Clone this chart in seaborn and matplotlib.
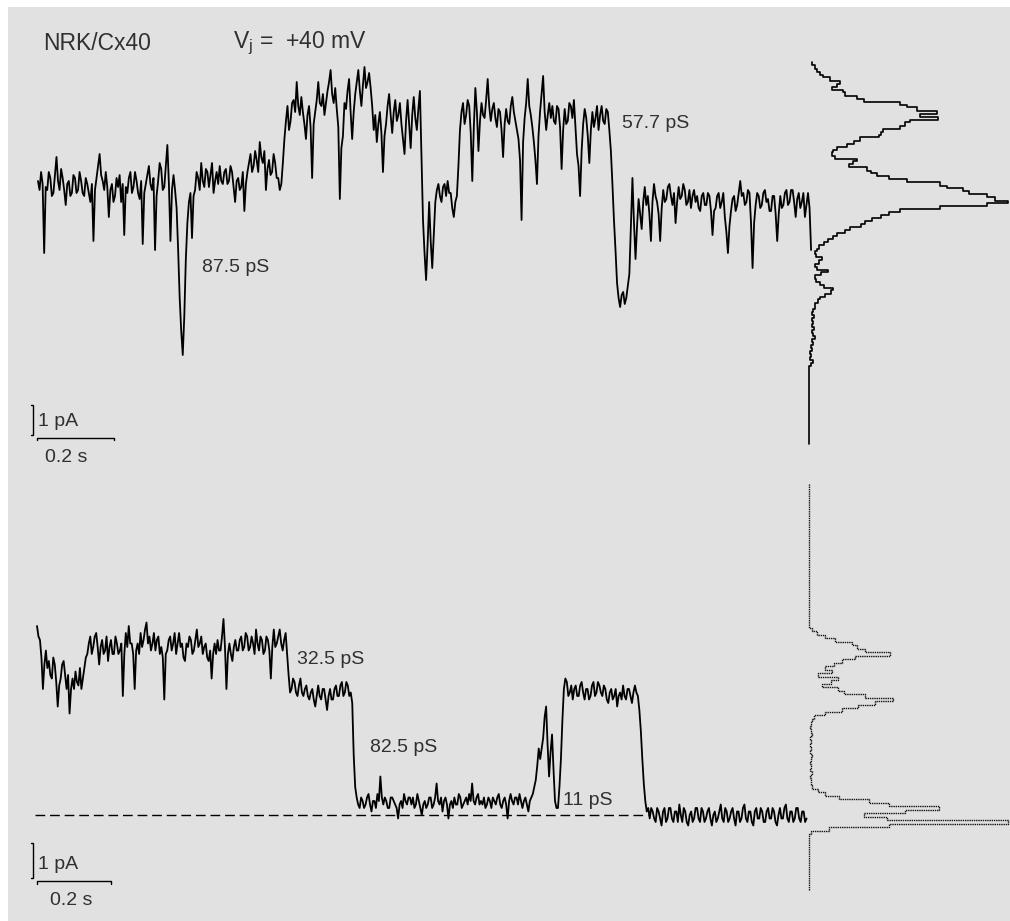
import numpy as np
import pandas as pd
import matplotlib
matplotlib.use("Agg")
import matplotlib.pyplot as plt
from matplotlib.patches import Rectangle
import seaborn as sns

# ---------------------------------------------------------------- data ----
DT_S = 0.004  # sample interval of the displayed traces (s)

# junctional current, upper record (pA)
top_current_pa = [
    7.3, 7.0, 7.6, 7.2, 4.9, 7.1, 7.0, 7.6, 7.4, 6.8, 6.9, 7.5, 8.1, 7.3, 7.0, 7.7, 7.4, 7.0, 6.5, 7.2,
    7.3, 6.8, 6.9, 7.5, 7.4, 6.9, 7.0, 7.6, 7.3, 6.9, 6.8, 7.4, 7.2, 6.9, 6.6, 7.2, 5.3, 7.0, 7.4, 7.8,
    8.2, 7.5, 7.3, 7.0, 7.6, 7.1, 6.1, 7.0, 7.2, 6.6, 6.8, 7.4, 7.1, 7.5, 6.6, 7.2, 5.5, 7.1, 6.9, 7.4,
    7.6, 6.9, 7.1, 7.6, 7.3, 6.9, 6.7, 7.3, 5.2, 6.9, 7.2, 7.5, 7.8, 7.2, 7.0, 7.4, 5.0, 6.8, 7.3, 7.9,
    7.7, 7.0, 7.1, 7.8, 8.5, 7.2, 5.3, 7.0, 7.5, 7.0, 6.4, 5.0, 3.4, 2.3, 1.5, 2.8, 4.7, 5.9, 6.6, 6.9,
    5.4, 6.8, 7.0, 7.6, 7.4, 7.0, 7.9, 7.3, 7.1, 7.7, 7.6, 7.1, 7.5, 7.9, 6.9, 7.3, 7.6, 7.2, 7.8, 7.3,
    7.2, 7.6, 7.7, 7.2, 7.3, 7.8, 7.6, 7.1, 6.6, 7.3, 7.4, 7.0, 7.1, 7.6, 6.3, 7.2, 7.6, 7.9, 8.2, 7.6,
    7.8, 8.3, 8.0, 7.6, 8.6, 8.1, 7.9, 8.3, 7.0, 7.7, 8.0, 7.5, 7.6, 8.2, 7.9, 7.4, 7.4, 7.0, 7.2, 7.9,
    8.7, 9.3, 9.8, 9.0, 9.3, 9.9, 10.0, 9.6, 10.6, 9.8, 9.5, 10.1, 9.6, 9.2, 8.7, 9.5, 9.8, 9.1, 7.4, 9.2,
    9.6, 10.0, 10.6, 9.9, 9.8, 10.2, 9.5, 9.9, 10.3, 10.6, 11.0, 10.2, 9.9, 10.4, 9.7, 9.1, 6.7, 8.4, 8.8, 9.9,
    9.7, 10.3, 10.7, 9.6, 8.7, 9.6, 10.2, 10.6, 11.0, 10.3, 9.8, 10.5, 11.1, 10.4, 10.6, 10.9, 10.4, 9.8, 9.0, 9.5,
    8.6, 9.2, 9.6, 8.9, 7.6, 8.8, 9.2, 9.8, 10.2, 9.5, 8.9, 9.6, 10.0, 9.3, 9.5, 9.9, 9.2, 8.7, 8.2, 9.3,
    10.0, 9.2, 8.4, 9.5, 10.1, 9.4, 9.0, 9.7, 10.3, 8.2, 6.0, 4.9, 4.0, 5.2, 6.6, 5.3, 4.4, 5.5, 6.6, 7.0,
    7.2, 6.8, 6.6, 7.1, 7.2, 6.8, 7.3, 6.9, 6.9, 6.4, 6.1, 6.6, 6.8, 7.8, 9.0, 9.6, 9.9, 9.2, 9.5, 10.0,
    9.8, 8.9, 7.3, 9.1, 10.4, 9.6, 8.3, 9.3, 9.9, 9.5, 9.4, 10.0, 10.7, 9.8, 9.3, 9.7, 9.9, 9.4, 9.1, 9.7,
    9.6, 9.0, 8.1, 9.2, 9.7, 9.3, 9.2, 9.8, 10.1, 9.6, 9.3, 9.0, 8.7, 8.0, 6.0, 8.6, 9.4, 9.9, 10.7, 9.8,
    9.5, 9.1, 8.6, 8.0, 7.2, 8.8, 9.6, 10.2, 10.8, 9.6, 9.0, 9.5, 9.9, 9.4, 9.8, 9.3, 9.2, 9.8, 9.7, 9.1,
    7.7, 9.0, 9.7, 9.2, 9.3, 9.9, 9.8, 9.4, 10.0, 9.1, 8.2, 7.8, 6.8, 8.3, 9.2, 9.7, 9.4, 8.8, 7.9, 9.0,
    9.6, 9.1, 9.4, 9.8, 9.0, 9.5, 9.8, 9.3, 9.2, 9.7, 9.6, 9.0, 8.3, 7.2, 6.0, 5.0, 3.9, 3.4, 3.1, 3.5,
    3.6, 3.2, 3.4, 3.8, 4.2, 5.8, 7.4, 5.9, 4.7, 5.8, 6.7, 6.2, 5.7, 6.6, 7.1, 6.5, 6.8, 6.2, 5.3, 6.6,
    7.2, 6.8, 6.6, 6.2, 5.3, 6.4, 7.0, 6.6, 6.7, 7.1, 7.2, 6.8, 6.5, 6.9, 5.9, 6.6, 7.1, 6.7, 6.8, 7.2,
    7.0, 6.5, 6.6, 7.0, 6.4, 6.8, 7.0, 6.6, 6.8, 6.4, 6.3, 6.8, 6.9, 6.5, 6.5, 6.9, 6.8, 6.3, 5.5, 6.3,
    6.4, 6.8, 6.9, 6.4, 6.6, 6.9, 6.1, 5.6, 4.9, 5.8, 6.3, 6.7, 6.8, 6.3, 6.5, 6.9, 7.3, 6.8, 6.9, 6.5,
    6.6, 7.0, 6.9, 5.9, 4.4, 5.9, 6.5, 6.9, 6.8, 6.4, 6.5, 6.9, 7.0, 6.6, 6.7, 6.3, 6.3, 6.8, 6.8, 6.2,
    5.3, 6.2, 6.8, 6.4, 6.5, 6.9, 7.0, 6.5, 6.6, 7.0, 7.0, 6.6, 6.1, 6.7, 6.9, 6.4, 6.6, 6.9, 6.1, 6.5,
    6.9, 6.4, 5.0,
]

# junctional current, lower record (pA, 0 = all channels closed)
bottom_current_pa = [
    5.4, 5.1, 5.0, 4.5, 3.6, 4.3, 4.7, 4.2, 4.4, 4.0, 3.9, 4.5, 4.3, 3.8, 3.1, 3.7, 3.9, 4.3, 4.4, 4.0,
    3.6, 4.0, 2.9, 3.6, 3.9, 3.6, 4.1, 3.8, 3.7, 4.2, 3.6, 3.9, 4.2, 4.5, 4.6, 4.9, 5.1, 4.6, 4.8, 5.1,
    5.2, 4.8, 4.3, 4.8, 5.0, 4.6, 4.7, 5.1, 4.4, 4.8, 5.0, 4.6, 4.6, 5.1, 4.9, 4.6, 4.7, 4.9, 3.4, 4.6,
    5.2, 4.8, 5.4, 4.9, 4.9, 4.6, 3.6, 4.7, 4.9, 4.6, 5.2, 4.8, 5.0, 5.3, 5.5, 4.9, 5.1, 4.7, 4.9, 5.2,
    4.7, 5.0, 5.1, 4.6, 4.8, 4.5, 3.3, 4.6, 4.7, 5.0, 5.1, 4.7, 4.9, 5.2, 4.6, 4.9, 5.2, 4.8, 4.9, 4.5,
    4.4, 4.9, 4.8, 5.1, 5.0, 4.6, 4.7, 5.0, 5.3, 4.8, 4.9, 5.1, 4.6, 4.8, 4.9, 4.5, 4.4, 4.7, 3.9, 4.6,
    4.9, 4.6, 5.0, 4.7, 4.7, 5.1, 5.6, 4.8, 3.6, 4.6, 4.9, 4.6, 4.4, 4.8, 5.0, 4.7, 4.7, 5.0, 5.1, 4.7,
    4.8, 5.2, 5.1, 4.7, 4.8, 5.1, 4.9, 4.6, 5.3, 4.9, 4.7, 5.1, 5.0, 4.6, 4.7, 5.1, 5.0, 4.7, 3.9, 4.8,
    5.3, 4.8, 4.9, 5.1, 5.3, 4.9, 4.7, 5.0, 5.2, 4.6, 4.0, 3.5, 3.6, 3.9, 3.8, 3.5, 3.4, 3.7, 3.9, 3.5,
    3.4, 3.6, 3.7, 3.4, 3.3, 3.5, 3.6, 3.3, 3.1, 3.4, 3.7, 3.4, 3.3, 3.6, 3.6, 3.3, 3.0, 3.4, 3.6, 3.3,
    3.3, 3.6, 3.7, 3.4, 3.4, 3.7, 3.8, 3.4, 3.5, 3.8, 3.7, 3.4, 3.5, 3.2, 1.7, 0.8, 0.5, 0.3, 0.2, 0.5,
    0.4, 0.2, 0.3, 0.5, 0.6, 0.3, 0.1, 0.4, 0.4, 0.2, 0.6, 0.4, 1.1, 0.5, 0.3, 0.5, 0.4, 0.2, 0.2, 0.5,
    0.5, 0.4, 0.3, 0.2, -0.1, 0.3, 0.4, 0.2, 0.6, 0.4, 0.3, 0.5, 0.5, 0.3, 0.5, 0.2, 0.3, 0.6, 0.4, 0.2,
    0.0, 0.3, 0.4, 0.2, 0.3, 0.5, 0.5, 0.2, 0.3, 0.5, 0.9, 0.4, 0.3, 0.5, 0.1, 0.4, 0.5, 0.3, -0.1, 0.3,
    0.4, 0.2, 0.5, 0.3, 0.3, 0.6, 0.5, 0.2, 0.3, 0.4, 0.5, 0.3, 0.6, 0.4, 0.9, 0.4, 0.3, 0.5, 0.6, 0.3,
    0.4, 0.3, 0.5, 0.2, 0.3, 0.5, 0.4, 0.2, 0.5, 0.4, 0.3, 0.5, 0.6, 0.3, 0.2, 0.4, 0.5, 0.3, -0.1, 0.4,
    0.6, 0.4, 0.3, 0.5, 0.5, 0.3, 0.6, 0.4, 0.2, 0.4, 0.5, 0.3, 0.1, 0.4, 0.5, 0.6, 0.8, 1.0, 1.4, 1.9,
    1.6, 1.9, 2.2, 2.8, 3.1, 2.0, 1.1, 1.8, 2.3, 1.3, 0.4, 0.2, 0.2, 0.8, 1.6, 2.7, 3.6, 3.9, 3.8, 3.4,
    3.5, 3.7, 3.3, 3.6, 3.7, 3.4, 3.4, 3.7, 3.8, 3.5, 3.3, 3.6, 3.6, 3.3, 3.4, 3.7, 3.8, 3.4, 3.5, 3.8,
    3.7, 3.5, 3.4, 3.7, 3.6, 3.3, 3.2, 3.5, 3.6, 3.3, 3.4, 3.6, 3.1, 3.4, 3.5, 3.3, 3.7, 3.4, 3.3, 3.6,
    3.6, 3.4, 3.2, 3.5, 3.7, 3.5, 3.4, 3.0, 2.4, 1.6, 0.9, 0.4, 0.1, 0.2, -0.1, 0.2, 0.1, -0.1, -0.2, 0.2,
    0.1, -0.1, -0.3, 0.1, 0.2, -0.2, -0.1, 0.2, 0.2, -0.1, -0.2, 0.1, 0.1, -0.2, 0.3, 0.0, -0.2, 0.2, 0.1, -0.2,
    -0.3, 0.0, 0.1, -0.2, -0.1, 0.2, 0.2, -0.1, -0.2, 0.2, 0.1, -0.2, -0.1, 0.1, 0.2, -0.1, -0.3, 0.0, 0.1, -0.2,
    -0.1, 0.1, 0.3, -0.1, -0.2, 0.2, 0.1, -0.2, -0.1, 0.1, 0.2, -0.1, -0.3, 0.1, 0.1, -0.2, -0.1, 0.2, 0.3, -0.1,
    -0.2, 0.1, 0.1, -0.2, -0.3, 0.1, 0.2, -0.1, -0.1, 0.2, 0.1, -0.2, -0.2, 0.1, 0.2, -0.1, -0.1, 0.2, 0.1, -0.2,
    -0.3, 0.0, 0.2, -0.1, -0.1, 0.2, 0.3, -0.1, -0.2, 0.1, 0.1, -0.2, -0.1, 0.2, 0.2, -0.1, -0.2, 0.1, 0.1, -0.2,
    -0.1,
]

# all-point amplitude histograms (counts per 0.1 pA bin, lowest bin first)
HIST_BIN_PA = 0.1
top_hist_first_center_pa = -1.4
top_hist_counts = [
    0, 0, 0, 0, 0, 0, 0, 0, 0, 0, 0, 0, 0, 0, 0, 0, 0, 0, 0, 0, 0, 0, 0, 0, 0, 0,
    2, 4, 1, 2, 1, 3, 2, 4, 3, 6, 4, 3, 5, 3, 4, 3, 5, 3, 4, 6,
    6, 9, 11, 16, 22, 24, 15, 11, 7, 6, 12, 19, 8, 6, 10, 13, 7, 6,
    8, 10, 15, 19, 24, 28, 36, 41, 52, 56, 63, 72, 80, 91, 131, 178,
    199, 186, 178, 160, 154, 138, 131, 98, 80, 68, 62, 58, 40, 44, 48,
    26, 23, 24, 28, 38, 45, 51, 70, 72, 74, 91, 96, 101, 129, 111,
    128, 108, 98, 91, 55, 48, 36, 34, 23, 28, 31, 21, 14, 11, 8, 6, 3,
]
bottom_hist_first_center_pa = -2.1
bottom_hist_counts = [
    0, 0, 0, 0, 0, 0, 0, 0, 0, 0, 0, 0, 0, 0, 0, 0,
    2, 20, 80, 199, 78, 55, 96, 130, 80, 60,
    30, 16, 9, 3, 2, 2, 1, 3, 1, 2,
    1, 2, 3, 1, 2, 1, 2, 1, 3, 2,
    1, 2, 3, 5, 16, 33, 49, 66, 84, 56,
    35, 29, 13, 22, 29, 9, 23, 16, 25, 33,
    46, 81, 56, 48, 43, 26, 16, 8, 3, 0,
    0, 0, 0, 0, 0, 0, 0, 0, 0, 0, 0, 0, 0, 0, 0, 0, 0, 0, 0, 0,
    0, 0, 0, 0, 0, 0, 0, 0, 0, 0, 0, 0, 0, 0, 0, 0, 0, 0, 0, 0,
]

top_labels = ["87.5 pS", "57.7 pS"]
bottom_labels = ["32.5 pS", "82.5 pS", "11 pS"]
SCALE_PA = 1.0
SCALE_S = 0.2
BASELINE_PA = 0.0

# ------------------------------------------------------------- styling ----
sns.set_style("white")
plt.rcParams["font.family"] = ["Liberation Sans", "DejaVu Sans"]
plt.rcParams["mathtext.fontset"] = "custom"
plt.rcParams["mathtext.rm"] = "Liberation Sans"
plt.rcParams["mathtext.it"] = "Liberation Sans:italic"

W, H = 1010, 921
BG = "#e1e1e1"
INK = "black"
TEXT = "#303030"

fig = plt.figure(figsize=(W / 100, H / 100), dpi=100)
fig.patch.set_facecolor("white")
fig.patches.append(Rectangle((8 / W, 0), 1 - 8 / W, 1 - 7 / H,
                             transform=fig.transFigure, facecolor=BG,
                             edgecolor="none", zorder=-10))


def calibrated_axes(box, x_origin, x_per_unit, y_origin, y_per_unit):
    """Axes placed on a pixel box with a fixed pixel-per-unit calibration."""
    x0, y0, x1, y1 = box
    ax = fig.add_axes([x0 / W, 1 - y1 / H, (x1 - x0) / W, (y1 - y0) / H])
    lims = ((x0 - x_origin) / x_per_unit, (x1 - x_origin) / x_per_unit,
            (y_origin - y1) / y_per_unit, (y_origin - y0) / y_per_unit)
    ax.set_xlim(lims[0], lims[1])
    ax.set_ylim(lims[2], lims[3])
    ax.set_axis_off()
    ax.patch.set_alpha(0)
    return ax, lims


def label(x_px, y_px, s, size=14):
    fig.text(x_px / W, 1 - y_px / H, s, fontsize=size, color=TEXT,
             ha="left", va="center")


def draw_trace(ax, values):
    t = np.arange(len(values)) * DT_S
    sns.lineplot(x=t, y=values, ax=ax, color=INK, linewidth=1.3,
                 estimator=None, sort=False, legend=False)


def draw_hist(ax, lims, first_center, counts, **kw):
    centers = first_center + HIST_BIN_PA * np.arange(len(counts))
    edges = np.append(centers - HIST_BIN_PA / 2, centers[-1] + HIST_BIN_PA / 2)
    frame = pd.DataFrame({"current": centers, "count": counts})
    sns.histplot(data=frame, y="current", weights="count", bins=edges.tolist(),
                 element="step", fill=False, ax=ax, **kw)
    ax.set_xlim(lims[0], lims[1])
    ax.set_ylim(lims[2], lims[3])
    ax.set_axis_off()


def scale_bar(ax, t0, i0, tick_t, tick_i, bar_gap_t):
    # vertical current bar drawn as a bracket
    tv = t0 - bar_gap_t
    ax.plot([tv - tick_t, tv, tv, tv - tick_t],
            [i0 + 0.1, i0 + 0.1, i0 + 0.1 + SCALE_PA, i0 + 0.1 + SCALE_PA],
            color=INK, lw=1.0, solid_joinstyle="miter")
    # horizontal time bar with small end ticks
    ax.plot([t0, t0, t0 + SCALE_S, t0 + SCALE_S],
            [i0 - tick_i, i0, i0, i0 - tick_i], color=INK, lw=1.0)


# ---------------------------------------------------------- upper panel ----
ax_top, _ = calibrated_axes((15, 50, 815, 470), 38, 385, 400, 30)
draw_trace(ax_top, top_current_pa)
scale_bar(ax_top, -0.003, -1.25, 0.006, 0.08, 0.010)

ax_top_h, lims_top_h = calibrated_axes((790, 50, 1010, 470), 809, 1, 400, 30)
draw_hist(ax_top_h, lims_top_h, top_hist_first_center_pa, top_hist_counts,
          color=INK, linewidth=1.2)

# ---------------------------------------------------------- lower panel ----
ax_bot, _ = calibrated_axes((15, 475, 815, 910), 37, 370, 815, 35)
draw_trace(ax_bot, bottom_current_pa)
ax_bot.hlines(BASELINE_PA, -0.006, 1.65, color=INK, lw=1.0,
              linestyles=(0, (7, 3.5)))
scale_bar(ax_bot, -0.001, -1.89, 0.006, 0.07, 0.010)

ax_bot_h, lims_bot_h = calibrated_axes((790, 475, 1010, 910), 809, 1, 815, 35)
draw_hist(ax_bot_h, lims_bot_h, bottom_hist_first_center_pa, bottom_hist_counts,
          color="#111111", linewidth=1.0, linestyle=(0, (1, 0.6)))

# ---------------------------------------------------------------- text ----
label(43, 43, "NRK/Cx40", 16.5)
label(233, 43, r"V$_\mathregular{j}$ =  +40 mV", 16.5)
label(202, 268, top_labels[0])
label(622, 123, top_labels[1])
label(38, 421, "1 pA")
label(45, 457, "0.2 s")
label(297, 660, bottom_labels[0])
label(370, 747, bottom_labels[1])
label(563, 800, bottom_labels[2])
label(38, 864, "1 pA")
label(50, 900, "0.2 s")

fig.savefig("out.png", dpi=100, facecolor=fig.get_facecolor())
